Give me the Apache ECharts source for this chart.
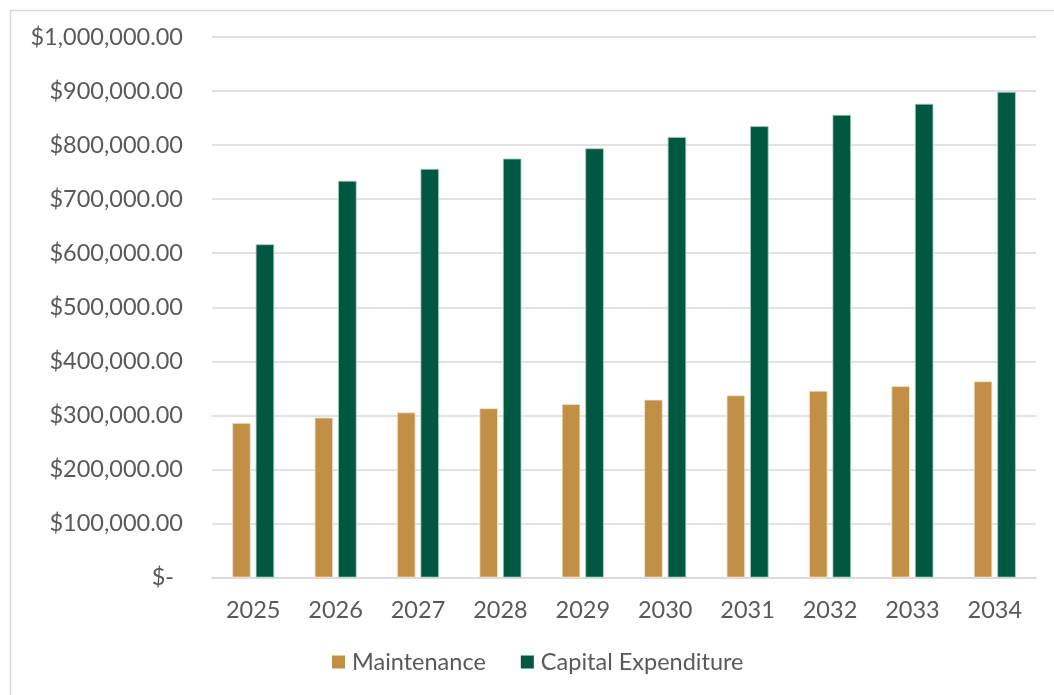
<!DOCTYPE html>
<html>
<head>
<meta charset="utf-8">
<script src="https://cdn.jsdelivr.net/npm/echarts@6/dist/echarts.min.js"></script>
<style>
  html, body { margin: 0; padding: 0; background: #ffffff; }
  #chart { width: 1054px; height: 695px; }
</style>
</head>
<body>
<div id="chart"></div>
<script>
// Annual budget by year
const years = ['2025', '2026', '2027', '2028', '2029', '2030', '2031', '2032', '2033', '2034'];
const maintenance = [286000, 296000, 305500, 313000, 321000, 329000, 337000, 345500, 354000, 363000];
const capitalExpenditure = [616500, 734000, 756000, 775000, 794000, 815000, 835000, 856000, 876500, 898500];
const seriesNames = ['Maintenance', 'Capital Expenditure'];
const yTicks = { min: 0, max: 1000000, interval: 100000 };

const FONT = 'Lato, "Noto Sans", sans-serif';
const FONT_SIZE = 23.5;
const TEXT = '#595959';
const GRID_LINE = '#d9d9d9';

function money(v) {
  if (v === 0) return '{dash|$-}';
  const s = v.toFixed(2).replace(/\B(?=(\d{3})+(?!\d))/g, ',');
  return '$' + s;
}

const chart = echarts.init(document.getElementById('chart'), null, { renderer: 'canvas' });
chart.setOption({
  backgroundColor: '#ffffff',
  animation: false,
  textStyle: { fontFamily: FONT, color: TEXT },
  graphic: [{
    type: 'rect',
    left: 8, top: 8,
    shape: { width: 1100, height: 750 },
    style: { fill: 'none', stroke: GRID_LINE, lineWidth: 1.5 },
    silent: true
  }],
  grid: { left: 212, right: 18, top: 37, bottom: 117.5, containLabel: false },
  legend: {
    data: seriesNames,
    left: 332, top: 650, padding: 0,
    itemWidth: 13, itemHeight: 13, itemGap: 35,
    icon: 'rect',
    itemStyle: { borderWidth: 0 },
    textStyle: { fontFamily: FONT, fontSize: FONT_SIZE, color: TEXT, padding: [0, 0, 0, 2] }
  },
  xAxis: {
    type: 'category',
    data: years,
    axisLine: { show: true, lineStyle: { color: GRID_LINE, width: 1.5 } },
    axisTick: { show: false },
    axisLabel: { fontFamily: FONT, fontSize: FONT_SIZE, color: TEXT, margin: 21 }
  },
  yAxis: {
    type: 'value',
    min: yTicks.min, max: yTicks.max, interval: yTicks.interval,
    axisLine: { show: false },
    axisTick: { show: false },
    splitLine: { lineStyle: { color: GRID_LINE, width: 1.5 } },
    axisLabel: {
      fontFamily: FONT, fontSize: FONT_SIZE, color: TEXT, margin: 29,
      formatter: money,
      rich: { dash: { fontFamily: FONT, fontSize: FONT_SIZE, color: TEXT, padding: [0, 9, 0, 0] } }
    }
  },
  series: [
    {
      name: seriesNames[0], type: 'bar', data: maintenance,
      barWidth: 18.5, barGap: '27%',
      itemStyle: { color: '#C28F47', borderColor: '#F3E6D3', borderWidth: 0.8 }
    },
    {
      name: seriesNames[1], type: 'bar', data: capitalExpenditure,
      barWidth: 18.5, barGap: '27%',
      itemStyle: { color: '#005842', borderColor: '#A9CDBF', borderWidth: 0.8 }
    }
  ]
});
</script>
</body>
</html>
